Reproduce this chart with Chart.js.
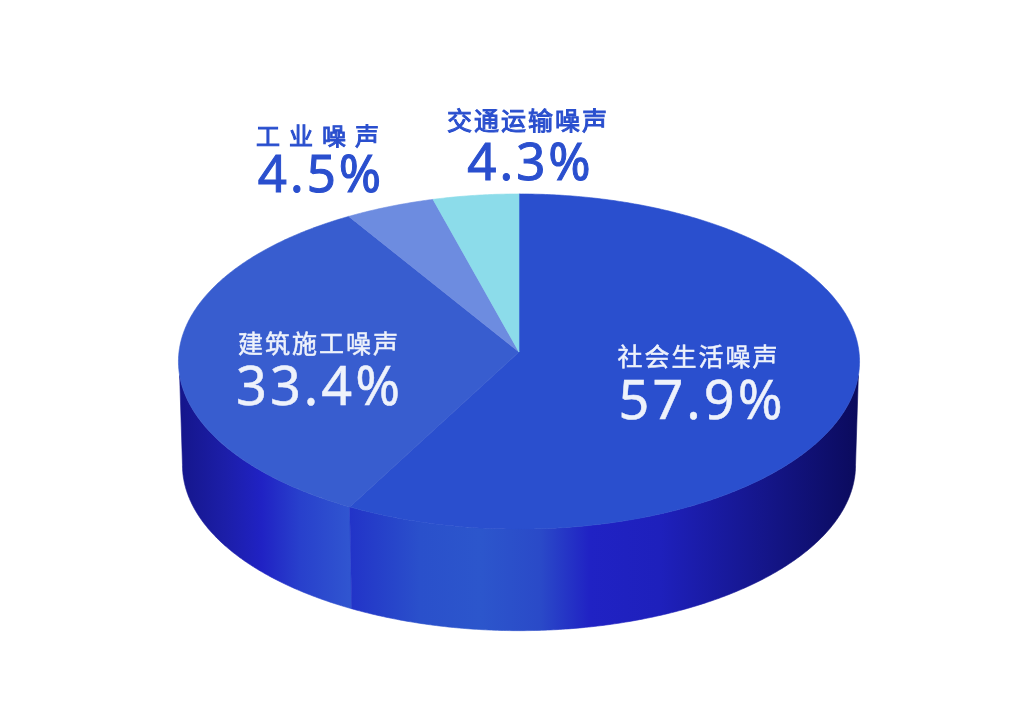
<!DOCTYPE html>
<html>
<head>
<meta charset="utf-8">
<script src="https://cdn.jsdelivr.net/npm/chart.js@4"></script>
<style>
  html, body { margin: 0; background: #fff; }
  canvas { display: block; }
</style>
</head>
<body>
<canvas id="noiseChart" width="1035" height="710"></canvas>
<script>
const categories = ['社会生活噪声', '建筑施工噪声', '工业噪声', '交通运输噪声'];
const shares = [57.9, 33.4, 4.5, 4.3];

const topColors = ['#2a4fce', '#385dcf', '#6d8ce0', '#8cdcea'];
const labelColors = ['#eef2fb', '#eef2fb', '#2a4fce', '#2a4fce'];
// name x, name baseline, value x, value baseline, name px, value px, name spacing, value spacing, stroke
const labelSpots = [
  [698.5, 366, 702, 419, 25, 54, 2, 3, 0.5],
  [319, 353, 319.5, 405, 25, 54, 2, 3, 0.5],
  [322, 145, 321, 192, 24, 51, 9, 3, 1],
  [528, 130, 530.5, 180, 25, 51, 2, 3, 1]
];
// wall shading, x position then colour
const wallStops = [
  [[349, '#2233c8'], [420, '#2a50cb'], [480, '#2c56cc'], [540, '#2a4ac8'], [590, '#2022c4'], [660, '#1e20bc'], [760, '#15168c'], [856, '#0b0b5e']],
  [[181, '#15168c'], [225, '#1c1ea8'], [262, '#2022c4'], [300, '#2840cc'], [349, '#3055d0']]
];

const tilt = 0.4912, lean = 0.0567, wallDrop = 103.7, wallRadius = 336;

// circle angle (clockwise from the top) to the leaning ellipse on screen
function project(cx, cy, r, t) {
  const u = Math.sin(t), v = Math.cos(t), d = 1 + lean * v;
  return [cx + r * u / d, cy - r * tilt * v / d];
}

function traceRim(ctx, cx, cy, r, from, to) {
  const n = Math.max(2, Math.ceil(Math.abs(to - from) * 120));
  for (let i = 0; i <= n; i++) {
    const p = project(cx, cy, r, from + (to - from) * i / n);
    ctx.lineTo(p[0], p[1]);
  }
}

const rad = Math.PI / 180;

const pie3d = {
  id: 'pie3d',
  beforeDatasetDraw(chart) {
    const ctx = chart.ctx;
    const arcs = chart.getDatasetMeta(0).data;
    ctx.save();
    ctx.lineWidth = 0.6;
    // second slice's wall goes first so the first one's dark seam stays on top
    [1, 0].forEach(i => {
      const { x, y, startAngle, endAngle, outerRadius } = arcs[i];
      const a = startAngle + Math.PI / 2, b = endAngle + Math.PI / 2;
      // side wall, front half only
      const topA = Math.max(a, 98 * rad), topB = Math.min(b, 262 * rad);
      const lowA = Math.max(a, 93 * rad), lowB = Math.min(b, 267 * rad);
      const stops = wallStops[i];
      const g = ctx.createLinearGradient(stops[0][0], 0, stops[stops.length - 1][0], 0);
      const x0 = stops[0][0], span = stops[stops.length - 1][0] - x0;
      stops.forEach(s => g.addColorStop((s[0] - x0) / span, s[1]));
      ctx.beginPath();
      traceRim(ctx, x, y, outerRadius, topA, topB);
      traceRim(ctx, x, y + wallDrop, wallRadius, lowB, lowA);
      ctx.closePath();
      ctx.fillStyle = ctx.strokeStyle = g;
      ctx.fill();
      ctx.stroke();
    });
    arcs.forEach((arc, i) => {
      const { x, y, startAngle, endAngle, outerRadius } = arc;
      ctx.beginPath();
      ctx.moveTo(x, y);
      traceRim(ctx, x, y, outerRadius, startAngle + Math.PI / 2, endAngle + Math.PI / 2);
      ctx.closePath();
      ctx.fillStyle = ctx.strokeStyle = topColors[i];
      ctx.fill();
      ctx.stroke();
    });
    ctx.restore();
    return false;
  },
  afterDatasetsDraw(chart) {
    const ctx = chart.ctx;
    ctx.save();
    ctx.textAlign = 'center';
    ctx.textBaseline = 'alphabetic';
    categories.forEach((name, i) => {
      const s = labelSpots[i];
      ctx.fillStyle = ctx.strokeStyle = labelColors[i];
      ctx.lineWidth = s[8];
      ctx.font = s[4] + 'px "Noto Sans CJK SC"';
      ctx.letterSpacing = s[6] + 'px';
      ctx.fillText(name, s[0], s[1]);
      ctx.strokeText(name, s[0], s[1]);
      const value = shares[i].toFixed(1) + '%';
      ctx.font = s[5] + 'px "Noto Sans"';
      ctx.letterSpacing = s[7] + 'px';
      ctx.fillText(value, s[2], s[3]);
      ctx.strokeText(value, s[2], s[3]);
    });
    ctx.restore();
  }
};

new Chart(document.getElementById('noiseChart'), {
  type: 'pie',
  data: {
    labels: categories,
    datasets: [{ data: shares, backgroundColor: topColors, borderWidth: 0 }]
  },
  options: {
    responsive: false,
    devicePixelRatio: 1,
    animation: false,
    layout: { padding: { left: 179, right: 176, top: 12, bottom: 18 } },
    plugins: { legend: { display: false }, tooltip: { enabled: false } }
  },
  plugins: [pie3d]
});
</script>
</body>
</html>
